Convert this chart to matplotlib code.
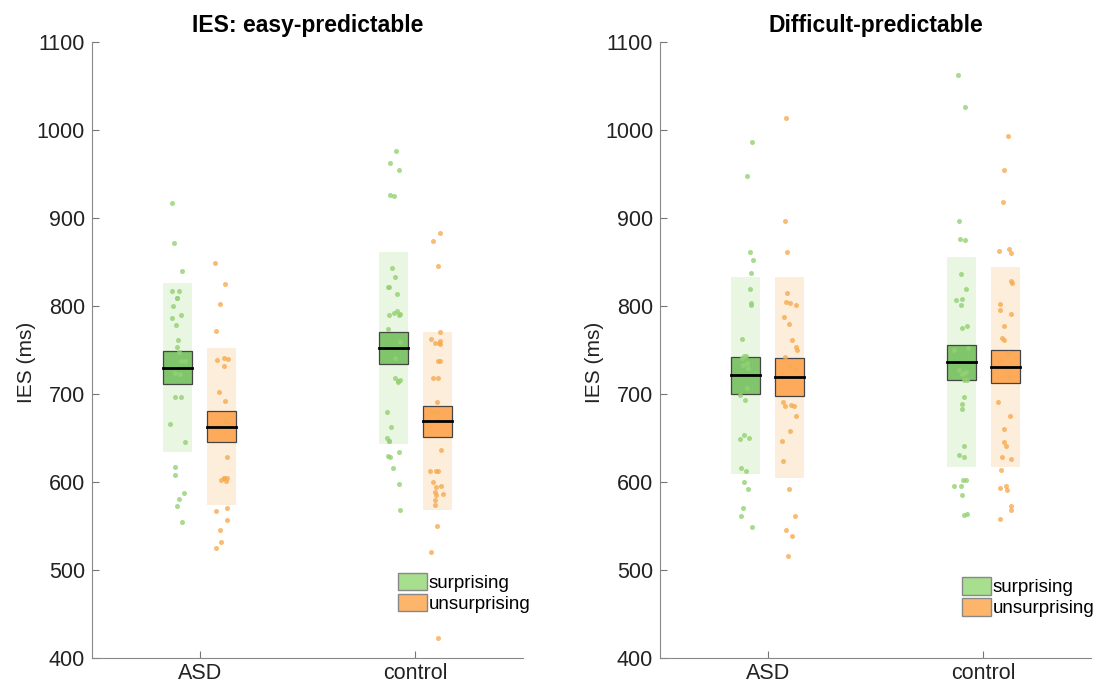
import numpy as np
import matplotlib
matplotlib.use("Agg")
import matplotlib.pyplot as plt
from matplotlib.patches import Patch

plt.rcParams['font.family'] = ['Liberation Sans', 'DejaVu Sans']

groups = ['ASD', 'control']
conditions = ['surprising', 'unsurprising']
titles = ['IES: easy-predictable', 'Difficult-predictable']

# raw IES values (ms), one list per group x condition
easy_asd_surp = [917, 872, 840, 817, 817, 809, 809, 800, 790, 786, 778, 761, 753, 748,
                 738, 737, 724, 723, 696, 696, 666, 645, 617, 608, 588, 581, 573, 554]
easy_asd_unsurp = [849, 825, 802, 771, 741, 740, 739, 732, 702, 692, 669, 661, 628, 605,
                   604, 604, 602, 601, 570, 567, 557, 545, 532, 525]
easy_ctrl_surp = [976, 962, 955, 926, 925, 843, 833, 822, 821, 814, 794, 792, 791, 790,
                  790, 774, 759, 741, 718, 716, 715, 714, 680, 663, 650, 647, 646, 634,
                  630, 628, 616, 598, 568]
easy_ctrl_unsurp = [883, 874, 845, 770, 762, 760, 758, 758, 757, 737, 737, 718, 718, 691,
                    679, 679, 670, 636, 613, 613, 612, 600, 595, 594, 589, 586, 585, 579,
                    574, 550, 520, 423]

diff_asd_surp = [986, 948, 861, 852, 837, 819, 803, 801, 763, 743, 743, 741, 735, 733,
                 729, 707, 699, 693, 653, 650, 649, 616, 612, 600, 592, 571, 561, 549]
diff_asd_unsurp = [1013, 897, 861, 815, 805, 803, 801, 788, 780, 761, 753, 750, 742, 732,
                   727, 691, 688, 686, 686, 675, 658, 647, 624, 592, 561, 546, 539, 516]
diff_ctrl_surp = [1062, 1026, 896, 876, 875, 836, 819, 808, 807, 801, 777, 775, 752, 750,
                  727, 725, 724, 723, 716, 716, 696, 689, 683, 641, 631, 628, 602, 602,
                  596, 596, 585, 564, 562]
diff_ctrl_unsurp = [993, 955, 918, 865, 863, 860, 828, 826, 802, 795, 791, 777, 764, 761,
                    747, 737, 731, 729, 719, 691, 675, 660, 645, 641, 628, 626, 614, 596,
                    593, 591, 573, 568, 558]

# summary stats: order = ASD surp, ASD unsurp, control surp, control unsurp
easy_mean = [730, 663, 752, 669]
easy_ci = [18.5, 17.5, 18.5, 17.5]
easy_sd = [96, 89.5, 109, 101]
diff_mean = [721, 719, 736, 731]
diff_ci = [21.5, 21.5, 20, 19]
diff_sd = [112, 114, 119.5, 113.5]

panels = [
    ([easy_asd_surp, easy_asd_unsurp, easy_ctrl_surp, easy_ctrl_unsurp], easy_mean, easy_ci, easy_sd),
    ([diff_asd_surp, diff_asd_unsurp, diff_ctrl_surp, diff_ctrl_unsurp], diff_mean, diff_ci, diff_sd),
]

box_cols = ['#80c46c', '#fdaa5a']
band_cols = ['#e9f6e1', '#fdeedb']
dot_cols = ['#93d173', '#f6ab52']
leg_cols = ['#a8df8e', '#fdb56c']

fig = plt.figure(figsize=(11.03, 6.93), dpi=100)
axes = [fig.add_axes([0.0834, 0.0505, 0.3908, 0.889]),
        fig.add_axes([0.5985, 0.0505, 0.3908, 0.889])]
rng = np.random.default_rng(3)
offset = 0.102
w = 0.135

for ax, (vals, means, cis, sds), title in zip(axes, panels, titles):
    for i, (v, m, c, s) in enumerate(zip(vals, means, cis, sds)):
        g, k = divmod(i, 2)
        x = g + 1 + (offset if k else -offset)
        # SD band, CI box, jittered points, mean line
        ax.add_patch(plt.Rectangle((x - w / 2, m - s), w, 2 * s, facecolor=band_cols[k],
                                   edgecolor='none', zorder=1))
        ax.add_patch(plt.Rectangle((x - w / 2, m - c), w, 2 * c, facecolor=box_cols[k],
                                   edgecolor='#444444', lw=0.9, zorder=2))
        jit = rng.uniform(-0.035, 0.035, len(v))
        ax.scatter(x + jit, v, s=13, color=dot_cols[k], alpha=0.8, lw=0, zorder=3)
        ax.plot([x - w / 2, x + w / 2], [m, m], color='black', lw=2, zorder=4)

    ax.set_xlim(0.5, 2.5)
    ax.set_ylim(400, 1100)
    ax.set_xticks([1, 2])
    ax.set_xticklabels(groups, fontsize=15.5)
    ax.set_yticks(range(400, 1101, 100))
    ax.tick_params(axis='y', labelsize=15.5, pad=5)
    ax.tick_params(direction='in', length=5, color='#777777', labelcolor='#222222', width=0.8)
    for sp in ['top', 'right']:
        ax.spines[sp].set_visible(False)
    for sp in ['left', 'bottom']:
        ax.spines[sp].set_color('#888888')
        ax.spines[sp].set_linewidth(0.8)
    ax.set_ylabel('IES (ms)', fontsize=15, color='#222222')
    ax.yaxis.set_label_coords(-0.13, 0.48)
    ax.set_title(title, fontsize=16.5, fontweight='bold', pad=7)

handles = [Patch(facecolor=leg_cols[k], edgecolor='#888888', label=conditions[k]) for k in range(2)]
axes[0].legend(handles=handles, loc='lower left', bbox_to_anchor=(0.71, 0.073), frameon=False,
               fontsize=13.5, handlelength=1.55, handleheight=1.05, handletextpad=0.1,
               labelspacing=0.1, borderaxespad=0, borderpad=0)
axes[1].legend(handles=handles, loc='lower left', bbox_to_anchor=(0.70, 0.066), frameon=False,
               fontsize=13.5, handlelength=1.55, handleheight=1.05, handletextpad=0.1,
               labelspacing=0.1, borderaxespad=0, borderpad=0)

fig.savefig('out.png', dpi=100)
